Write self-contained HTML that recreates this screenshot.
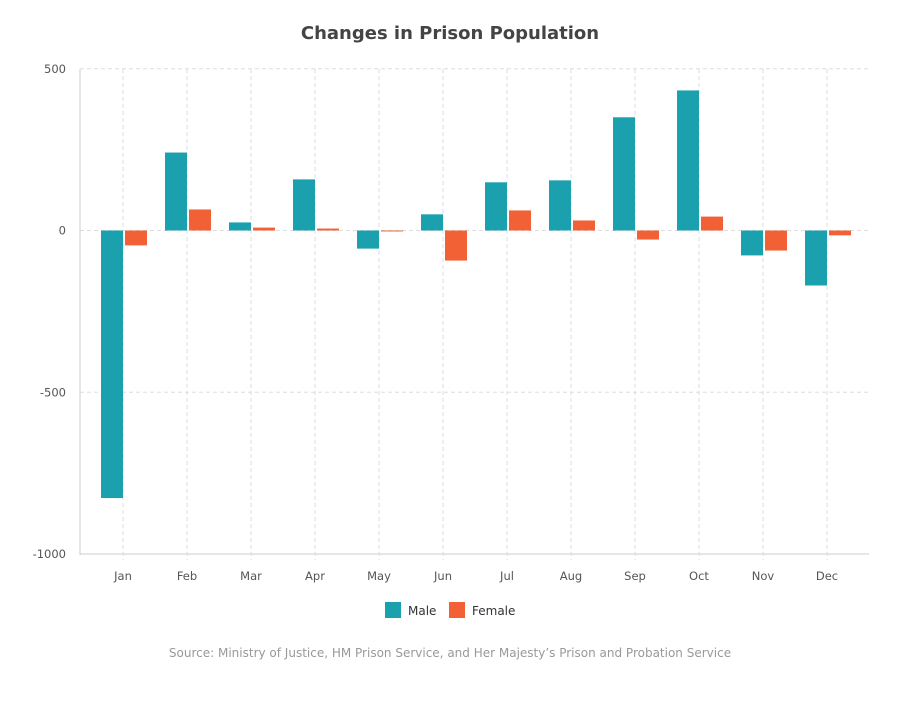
<!DOCTYPE html>
<html><head><meta charset="utf-8"><style>
body{margin:0;background:#fff;font-family:"DejaVu Sans","Liberation Sans",sans-serif}
</style></head><body>
<svg width="900" height="700" id="c" font-family="DejaVu Sans, Liberation Sans, sans-serif">
<text x="450" y="39" text-anchor="middle" font-size="18" font-weight="bold" fill="#444">Changes in Prison Population</text>
<g id="grid"></g><g id="bars"></g>
<g>
<rect x="385" y="602" width="16" height="16" fill="#1aa1ad"/>
<text x="408" y="615" font-size="12" fill="#333">Male</text>
<rect x="449" y="602" width="16" height="16" fill="#f26135"/>
<text x="472" y="615" font-size="12" fill="#333">Female</text>
</g>
<text x="450" y="657" text-anchor="middle" font-size="12" fill="#999">Source: Ministry of Justice, HM Prison Service, and Her Majesty’s Prison and Probation Service</text>
</svg>
<script>
const categories=["Jan","Feb","Mar","Apr","May","Jun","Jul","Aug","Sep","Oct","Nov","Dec"];
const maleValues=[-827,241,25,158,-56,50,149,155,350,433,-77,-170];
const femaleValues=[-46,65,9,6,-3,-93,62,31,-28,43,-62,-15];
const yTicks=[500,0,-500,-1000];
const NS="http://www.w3.org/2000/svg";
const y=v=>230.5-v*0.3235;
const xc=i=>123+64*i;
const grid=document.getElementById('grid'),bars=document.getElementById('bars');
function mk(t,a,p){const e=document.createElementNS(NS,t);for(const k in a)e.setAttribute(k,a[k]);p.appendChild(e);return e;}
yTicks.forEach(t=>{
 const l=mk('line',{x1:80,x2:869,y1:y(t),y2:y(t),stroke:t===-1000?'#ccc':'#ddd','stroke-dasharray':t===-1000?'':'4,3'},grid);
 
 
 const tx=mk('text',{x:66,y:y(t)+4,'text-anchor':'end','font-size':11.5,fill:'#555'},grid);tx.textContent=t;
 
 
});
const ax=mk('line',{x1:80,x2:80,y1:69,y2:555,stroke:'#ccc'},grid);


categories.forEach((c,i)=>{
 const g=mk('line',{x1:xc(i),x2:xc(i),y1:69,y2:560,stroke:'#ddd','stroke-dasharray':'4,3'},grid);
 
 
 const t=mk('text',{x:xc(i),y:580,'text-anchor':'middle','font-size':11.5,fill:'#555'},grid);t.textContent=c;
 
 
 [[maleValues[i],xc(i)-22,'#1aa1ad','male'],[femaleValues[i],xc(i)+2,'#f26135','female']].forEach(([v,x,col,s])=>{
  const r=mk('rect',{x:x,width:22,y:Math.min(y(v),y(0)),height:Math.abs(y(v)-y(0)),fill:col},bars);
  
  
 });
});
</script>
</body></html>
